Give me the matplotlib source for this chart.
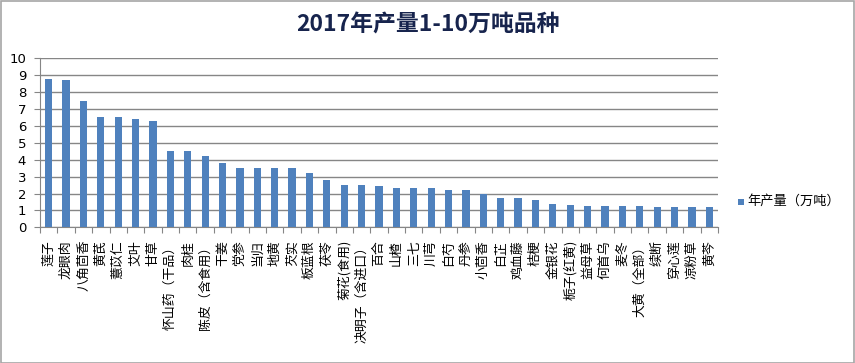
import matplotlib
matplotlib.use("Agg")
import matplotlib.pyplot as plt
from matplotlib.patches import Rectangle
import numpy as np

plt.rcParams['font.family'] = ['Noto Sans CJK SC', 'DejaVu Sans']

categories = ["莲子", "龙眼肉", "八角茴香", "黄芪", "薏苡仁", "艾叶", "甘草",
              "怀山药（干品）", "肉桂", "陈皮（含食用）", "干姜", "党参", "当归",
              "地黄", "芡实", "板蓝根", "茯苓", "菊花(食用)", "决明子（含进口）",
              "百合", "山楂", "三七", "川芎", "白芍", "丹参", "小茴香", "白芷",
              "鸡血藤", "桔梗", "金银花", "栀子(红黄)", "益母草", "何首乌", "麦冬",
              "大黄（全部）", "续断", "穿心莲", "凉粉草", "黄芩"]
values = [8.8, 8.7, 7.5, 6.5, 6.5, 6.4, 6.3,
          4.5, 4.5, 4.2, 3.8, 3.5, 3.5,
          3.5, 3.5, 3.2, 2.8, 2.5, 2.5,
          2.45, 2.3, 2.3, 2.3, 2.2, 2.2, 2.0, 1.75,
          1.75, 1.6, 1.38, 1.32, 1.25, 1.25, 1.25,
          1.25, 1.2, 1.2, 1.2, 1.2]
series_name = "年产量（万吨）"
title = "2017年产量1-10万吨品种"
yticks = list(range(0, 11))

W, H = 855, 363
fig = plt.figure(figsize=(W / 100, H / 100), dpi=100)
fig.patch.set_facecolor('white')
fig.add_artist(Rectangle((0.5 / W, 0.5 / H), 1 - 1.5 / W, 1 - 1.5 / H,
                         transform=fig.transFigure, fill=False,
                         edgecolor='#A6A6A6', linewidth=1.2))

left, right = 40 / W, 718 / W
top, bottom = 1 - 58.3 / H, 1 - 227.3 / H
ax = fig.add_axes([left, bottom, right - left, top - bottom])

x = np.arange(len(categories))
bars = ax.bar(x, values, width=0.42, color='#4F81BD', zorder=3,
              label=series_name)

ax.set_xlim(-0.5, len(categories) - 0.5)
ax.set_ylim(0, 10)
ax.set_yticks(yticks)
ax.set_yticklabels([str(t) for t in yticks], fontsize=9.5, color='#000000',
                   family=['DejaVu Sans'])
ax.yaxis.grid(True, color='#868686', linewidth=1.0, zorder=0)
ax.set_axisbelow(True)

for s in ['top', 'right']:
    ax.spines[s].set_visible(False)
ax.spines['left'].set_color('#868686')
ax.spines['bottom'].set_color('#868686')
ax.tick_params(axis='y', length=4, color='#868686', pad=6)

ax.set_xticks(np.arange(-0.5, len(categories), 1.0))
ax.set_xticklabels([])
ax.tick_params(axis='x', length=4, color='#868686', direction='out')

for xi, lab in zip(x, categories):
    ax.text(xi, -0.75, lab, rotation=90, ha='center', va='top',
            fontsize=9.3, color='#000000', rotation_mode='default',
            transform=ax.transData, clip_on=False)

fig.text(428 / W, 1 - 25 / H, title, ha='center', va='center',
         fontsize=16.5, fontweight='bold', color='#17244D')

# legend
fig.add_artist(Rectangle((738 / W, 1 - 205 / H), 6 / W, 6 / H,
                         transform=fig.transFigure, facecolor='#4F81BD',
                         edgecolor='none'))
fig.text(747 / W, 1 - 201.5 / H, series_name, ha='left', va='center',
         fontsize=9.5, color='#000000')

fig.savefig("out.png", dpi=100, facecolor='white')
